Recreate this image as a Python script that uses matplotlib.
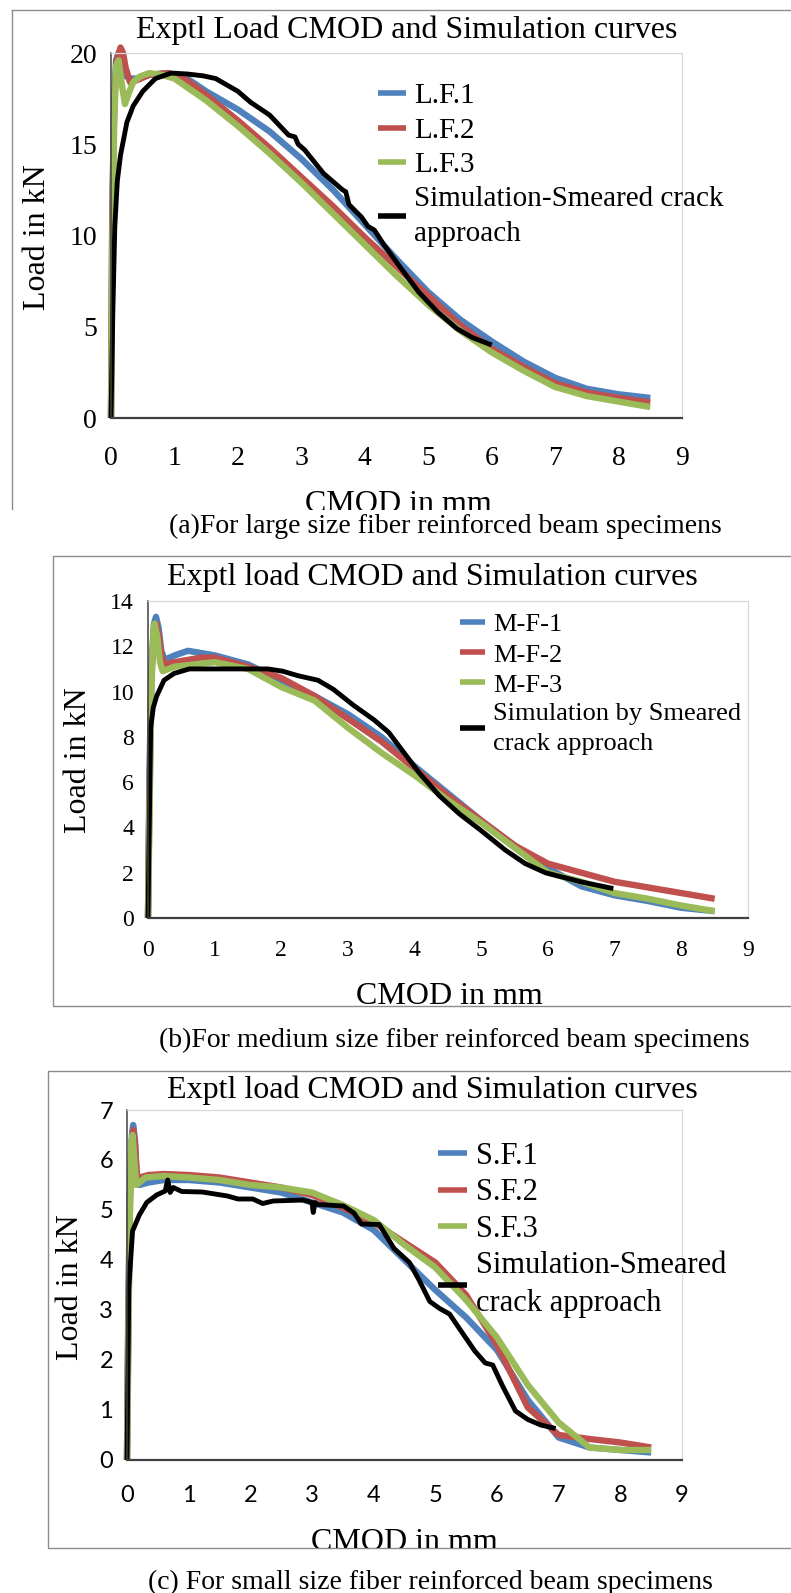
import matplotlib
matplotlib.use("Agg")
import matplotlib.pyplot as plt
from matplotlib.patches import Rectangle

W, H = 791, 1593

XTICKS = [0, 1, 2, 3, 4, 5, 6, 7, 8, 9]
YLABEL = "Load in kN"
XLABEL = "CMOD in mm"

# ---------------- Panel (a) ----------------
A_TITLE = "Exptl Load CMOD and Simulation curves"
A_CAPTION = "(a)For large size fiber reinforced beam specimens"
A_YTICKS = [0, 5, 10, 15, 20]
A_NAMES = ["L.F.1", "L.F.2", "L.F.3", "Simulation-Smeared crack\napproach"]
A_LF1_X = [0, 0.02, 0.05, 0.08, 0.12, 0.16, 0.2, 0.3, 0.45, 0.6, 0.9, 1.2, 1.5, 2.0, 2.5, 3.0, 3.5,
           4.0, 4.5, 5.0, 5.5, 6.0, 6.5, 7.0, 7.5, 8.0, 8.5]
A_LF1_Y = [0, 11.0, 17.5, 19.6, 20.0, 19.5, 18.8, 18.6, 18.6, 18.8, 18.9, 18.6, 17.9, 16.9, 15.7, 14.2,
           12.5, 10.6, 8.7, 6.9, 5.4, 4.2, 3.1, 2.2, 1.6, 1.3, 1.1]
A_LF2_X = [0, 0.02, 0.05, 0.09, 0.15, 0.19, 0.23, 0.3, 0.4, 0.6, 0.9, 1.2, 1.5, 2.0, 2.5, 3.0, 3.5,
           4.0, 4.5, 5.0, 5.5, 6.0, 6.5, 7.0, 7.5, 8.0, 8.5]
A_LF2_Y = [0, 11.0, 17.0, 19.6, 20.3, 20.0, 19.2, 18.4, 18.5, 18.8, 18.9, 18.5, 17.7, 16.3, 14.8, 13.2,
           11.6, 9.9, 8.3, 6.7, 5.1, 3.8, 2.8, 1.9, 1.4, 1.1, 0.85]
A_LF3_X = [0, 0.02, 0.05, 0.08, 0.12, 0.17, 0.22, 0.28, 0.35, 0.45, 0.6, 0.8, 1.0, 1.5, 2.0, 2.5, 3.0,
           3.5, 4.0, 4.5, 5.0, 5.5, 6.0, 6.5, 7.0, 7.5, 8.0, 8.5]
A_LF3_Y = [0, 9.0, 16.0, 19.3, 19.6, 18.3, 17.2, 17.8, 18.4, 18.7, 18.9, 18.8, 18.6, 17.4, 16.0, 14.5,
           12.9, 11.2, 9.5, 7.8, 6.2, 4.8, 3.6, 2.6, 1.7, 1.2, 0.9, 0.6]
A_SIM_X = [0, 0.03, 0.06, 0.1, 0.15, 0.25, 0.35, 0.5, 0.7, 0.95, 1.2, 1.45, 1.65, 1.8, 2.0, 2.2, 2.5,
           2.8, 2.9, 2.95, 3.05, 3.35, 3.65, 3.7, 3.75, 3.95, 4.05, 4.15, 4.3, 4.55, 4.85, 5.15, 5.45,
           5.7, 6.0]
A_SIM_Y = [0, 6.0, 10.5, 13.0, 14.4, 16.2, 17.1, 17.9, 18.6, 18.9, 18.85, 18.75, 18.6, 18.3, 17.9, 17.3,
           16.6, 15.5, 15.4, 15.0, 14.7, 13.4, 12.5, 12.4, 11.7, 11.0, 10.5, 10.3, 9.5, 8.3, 6.9, 5.8,
           4.9, 4.4, 4.0]

# ---------------- Panel (b) ----------------
B_TITLE = "Exptl load CMOD and Simulation curves"
B_CAPTION = "(b)For medium size fiber reinforced beam specimens"
B_YTICKS = [0, 2, 4, 6, 8, 10, 12, 14]
B_NAMES = ["M-F-1", "M-F-2", "M-F-3", "Simulation by Smeared\ncrack approach"]
B_MF1_X = [0, 0.02, 0.05, 0.09, 0.12, 0.16, 0.2, 0.25, 0.4, 0.6, 1.0, 1.5, 2.0, 2.5, 3.0, 3.5, 4.0,
           4.5, 5.0, 5.5, 6.0, 6.5, 7.0, 7.5, 8.0, 8.5]
B_MF1_Y = [0, 6.0, 11.0, 13.0, 13.3, 12.8, 11.8, 11.4, 11.6, 11.8, 11.6, 11.2, 10.5, 9.8, 9.0, 8.0,
           6.7, 5.5, 4.3, 3.2, 2.2, 1.4, 1.0, 0.75, 0.45, 0.3]
B_MF2_X = [0, 0.02, 0.05, 0.09, 0.12, 0.16, 0.2, 0.25, 0.4, 0.8, 1.0, 1.5, 2.0, 2.5, 3.0, 3.5, 4.0,
           4.5, 5.0, 5.5, 6.0, 6.5, 7.0, 7.5, 8.0, 8.5]
B_MF2_Y = [0, 5.0, 10.5, 12.7, 13.0, 12.5, 11.6, 11.2, 11.3, 11.5, 11.5, 11.1, 10.6, 9.8, 8.8, 7.8,
           6.6, 5.4, 4.3, 3.2, 2.4, 2.0, 1.6, 1.35, 1.1, 0.85]
B_MF3_X = [0, 0.02, 0.05, 0.08, 0.1, 0.14, 0.18, 0.22, 0.4, 0.7, 1.0, 1.5, 2.0, 2.5, 3.0, 3.5, 4.0,
           4.5, 5.0, 5.5, 6.0, 6.5, 7.0, 7.5, 8.0, 8.5]
B_MF3_Y = [0, 4.0, 10.0, 12.7, 13.0, 12.4, 11.3, 10.9, 11.1, 11.2, 11.3, 11.0, 10.2, 9.6, 8.4, 7.3,
           6.3, 5.2, 4.2, 3.1, 2.0, 1.6, 1.1, 0.85, 0.55, 0.3]
B_SIM_X = [0, 0.04, 0.08, 0.13, 0.24, 0.39, 0.62, 1.2, 1.8, 2.02, 2.25, 2.55, 2.78, 3.08, 3.39, 3.61,
           3.84, 4.07, 4.37, 4.67, 4.98, 5.36, 5.66, 5.96, 6.49, 6.98]
B_SIM_Y = [0, 8.4, 9.3, 9.8, 10.5, 10.8, 11.0, 11.0, 11.0, 10.9, 10.7, 10.5, 10.1, 9.4, 8.75, 8.2,
           7.3, 6.4, 5.4, 4.6, 3.9, 3.0, 2.4, 2.0, 1.6, 1.3]

# ---------------- Panel (c) ----------------
C_TITLE = "Exptl load CMOD and Simulation curves"
C_CAPTION = "(c) For small size fiber reinforced beam specimens"
C_YTICKS = [0, 1, 2, 3, 4, 5, 6, 7]
C_NAMES = ["S.F.1", "S.F.2", "S.F.3", "Simulation-Smeared\ncrack approach"]
C_SF1_X = [0, 0.02, 0.05, 0.08, 0.1, 0.13, 0.16, 0.2, 0.35, 0.6, 1.0, 1.5, 2.0, 2.5, 3.0, 3.5, 4.0,
           4.5, 5.0, 5.5, 6.0, 6.5, 7.0, 7.5, 8.0, 8.5]
C_SF1_Y = [0, 3.0, 5.5, 6.5, 6.7, 6.4, 5.6, 5.5, 5.55, 5.6, 5.6, 5.55, 5.45, 5.35, 5.15, 4.95, 4.6,
           4.0, 3.4, 2.85, 2.2, 1.2, 0.45, 0.25, 0.2, 0.15]
C_SF2_X = [0, 0.02, 0.05, 0.08, 0.1, 0.13, 0.16, 0.2, 0.35, 0.6, 1.0, 1.5, 2.0, 2.5, 3.0, 3.5, 4.0,
           4.5, 5.0, 5.5, 6.0, 6.5, 7.0, 7.5, 8.0, 8.5]
C_SF2_Y = [0, 2.5, 5.3, 6.4, 6.6, 6.3, 5.7, 5.65, 5.7, 5.72, 5.7, 5.65, 5.55, 5.45, 5.3, 5.05, 4.75,
           4.35, 3.95, 3.3, 2.3, 1.05, 0.5, 0.42, 0.35, 0.25]
C_SF3_X = [0, 0.02, 0.04, 0.07, 0.09, 0.12, 0.15, 0.2, 0.3, 0.6, 1.0, 1.5, 2.0, 2.5, 3.0, 3.5, 4.0,
           4.5, 5.0, 5.5, 6.0, 6.5, 7.0, 7.5, 8.0, 8.5]
C_SF3_Y = [0, 2.0, 4.5, 6.3, 6.5, 6.0, 5.5, 5.55, 5.65, 5.68, 5.65, 5.6, 5.5, 5.45, 5.35, 5.1, 4.8,
           4.3, 3.85, 3.2, 2.45, 1.5, 0.75, 0.25, 0.2, 0.2]
C_SIM_X = [0, 0.03, 0.09, 0.2, 0.32, 0.48, 0.62, 0.66, 0.7, 0.75, 0.89, 1.22, 1.63, 1.8, 2.04, 2.2,
           2.37, 2.86, 3.0, 3.02, 3.05, 3.1, 3.51, 3.68, 3.8, 4.09, 4.33, 4.58, 4.74, 4.91, 5.07, 5.23,
           5.4, 5.64, 5.81, 5.93, 6.09, 6.3, 6.5, 6.71, 6.95]
C_SIM_Y = [0, 3.45, 4.58, 4.9, 5.15, 5.3, 5.38, 5.6, 5.35, 5.45, 5.37, 5.36, 5.28, 5.22, 5.22, 5.13,
           5.18, 5.2, 5.15, 4.95, 5.15, 5.11, 5.08, 4.94, 4.72, 4.71, 4.23, 3.95, 3.59, 3.17, 3.03, 2.92,
           2.61, 2.18, 1.94, 1.9, 1.48, 0.98, 0.81, 0.7, 0.63]

BLUE, RED, GREEN, BLACK = "#4F81BD", "#C0504D", "#9BBB59", "#000000"
SERIF = "Liberation Serif"
SANS = "Lato"
BORDER = "#8c8c8c"

fig = plt.figure(figsize=(W / 100, H / 100), dpi=100)
fig.patch.set_facecolor("white")

bg = fig.add_axes([0, 0, 1, 1])
bg.set_xlim(0, W)
bg.set_ylim(H, 0)
bg.axis("off")


def px_axes(x0, ytop, x1, ybot):
    return fig.add_axes([x0 / W, 1 - ybot / H, (x1 - x0) / W, (ybot - ytop) / H])


def panel(box, yticks, series, names, tickfont, ticksize, legend_xy, legend_size, legend_spacing,
          legend_linespacing, title, title_xy, ylabel_xy, xlabel_xy, clip_y, caption, caption_xy,
          xpad, ypad):
    ax = px_axes(*box)
    ax.patch.set_alpha(0)
    colors = [BLUE, RED, GREEN, BLACK]
    widths = [4.6, 4.6, 4.6, 3.5]
    lines = []
    for (xs, ys), c, lw, nm in zip(series, colors, widths, names):
        ln, = ax.plot(xs, ys, color=c, lw=lw, label=nm, solid_joinstyle="round",
                      solid_capstyle="butt", clip_on=False)
        lines.append(ln)
    ax.set_xlim(0, 9)
    ax.set_ylim(0, yticks[-1])
    ax.set_xticks(XTICKS)
    ax.set_yticks(yticks)
    ax.tick_params(length=0)
    ax.tick_params(axis="x", pad=xpad)
    ax.tick_params(axis="y", pad=ypad)
    for lab in ax.get_xticklabels() + ax.get_yticklabels():
        lab.set_fontfamily(tickfont)
        lab.set_fontsize(ticksize)
        lab.set_color("black")
    for s in ["top", "right"]:
        ax.spines[s].set_color("#d9d9d9")
        ax.spines[s].set_linewidth(0.9)
    ax.spines["left"].set_color("#404040")
    ax.spines["left"].set_linewidth(1.1)
    ax.spines["bottom"].set_color("#404040")
    ax.spines["bottom"].set_linewidth(1.6)
    leg = ax.legend(handles=lines, loc="upper left",
                    bbox_to_anchor=(legend_xy[0] / W, 1 - legend_xy[1] / H),
                    bbox_transform=fig.transFigure, frameon=False, borderpad=0,
                    borderaxespad=0, handlelength=0.95, handletextpad=0.3,
                    labelspacing=legend_spacing,
                    prop={"family": SERIF, "size": legend_size})
    for h in leg.legend_handles:
        h.set_linewidth(4.0)
    for t in leg.get_texts():
        t.set_linespacing(legend_linespacing)
    bg.text(title_xy[0], title_xy[1], title, family=SERIF, fontsize=23,
            ha="center", va="center")
    bg.text(ylabel_xy[0], ylabel_xy[1], YLABEL, family=SERIF, fontsize=23,
            ha="center", va="center", rotation=90)
    xl = bg.text(xlabel_xy[0], xlabel_xy[1], XLABEL, family=SERIF, fontsize=23,
                 ha="center", va="center", clip_on=True)
    clip = Rectangle((0, 0), W, clip_y, transform=bg.transData, fill=False, visible=False)
    bg.add_patch(clip)
    xl.set_clip_path(clip)
    bg.text(caption_xy[0], caption_xy[1], caption, family=SERIF, fontsize=20,
            ha="center", va="center")
    return ax


# panel borders
bg.plot([12, W + 5], [10, 10], color=BORDER, lw=1.0)
bg.plot([12, 12], [10, 509], color=BORDER, lw=1.0)
bg.plot([W + 5, 53, 53, W + 5], [556, 556, 1006, 1006], color=BORDER, lw=1.0)
bg.plot([W + 5, 48, 48, W + 5], [1071, 1071, 1548, 1548], color=BORDER, lw=1.0)

panel((111, 53, 682, 418), A_YTICKS,
      [(A_LF1_X, A_LF1_Y), (A_LF2_X, A_LF2_Y), (A_LF3_X, A_LF3_Y), (A_SIM_X, A_SIM_Y)],
      A_NAMES, SERIF, 20, (378, 83), 21, 0.27, 1.45,
      A_TITLE, (407, 30), (38, 237), (398, 504), 510, A_CAPTION, (445, 526), 20, 10)

panel((148, 601, 748, 918), B_YTICKS,
      [(B_MF1_X, B_MF1_Y), (B_MF2_X, B_MF2_Y), (B_MF3_X, B_MF3_Y), (B_SIM_X, B_SIM_Y)],
      B_NAMES, SERIF, 17, (460, 613), 19, 0.25, 1.45,
      B_TITLE, (432, 577), (78, 760), (449, 996), 1006, B_CAPTION, (454, 1040), 16, 10)

panel((127, 1110, 682, 1460), C_YTICKS,
      [(C_SF1_X, C_SF1_Y), (C_SF2_X, C_SF2_Y), (C_SF3_X, C_SF3_Y), (C_SIM_X, C_SIM_Y)],
      C_NAMES, SANS, 17, (438, 1142), 22, 0.24, 1.4,
      C_TITLE, (432, 1090), (70, 1287), (404, 1543), 1548, C_CAPTION, (430, 1582), 18, 10)

fig.savefig("out.png", dpi=100, facecolor="white")
